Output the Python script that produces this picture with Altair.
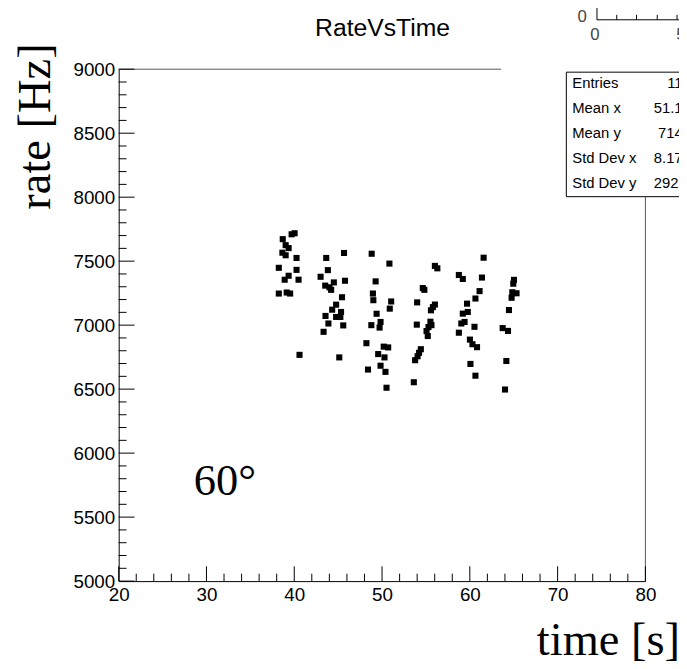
import altair as alt
import pandas as pd

# ---- data (time [s], rate [Hz]) ----
time_s = [
    # run near 39 s
    38.69, 39.02, 39.36, 39.70, 40.04, 38.65, 39.02, 40.26, 38.24, 40.26, 39.36, 38.91, 40.49, 38.24, 39.14, 39.53, 40.60,
    # run near 44.5 s
    45.67, 43.64, 43.83, 43.00, 45.78, 44.51, 43.53, 44.01, 44.20, 45.44, 44.77, 44.32, 45.33, 43.56, 44.77, 45.25, 43.89, 45.58, 43.34, 45.13,
    # run near 49.5 s
    48.82, 50.84, 49.27, 48.96, 49.01, 51.04, 50.88, 49.38, 49.83, 49.72, 48.78, 48.22, 50.19, 50.70, 49.56, 50.28, 49.83, 48.40, 50.39, 50.51,
    # run near 55 s
    56.02, 56.30, 54.64, 54.82, 54.00, 56.02, 55.79, 55.57, 53.96, 55.51, 55.63, 55.29, 55.07, 55.21, 54.42, 54.22, 54.05, 53.77, 53.62,
    # run near 60 s
    61.57, 58.75, 59.20, 61.38, 61.11, 60.64, 59.68, 59.77, 59.20, 59.40, 59.03, 60.53, 58.75, 60.01, 60.30, 60.82, 60.07, 60.64,
    # run near 64.5 s
    65.03, 64.95, 64.84, 65.32, 64.76, 64.46, 63.74, 64.35, 64.16, 64.01,
]
rate_hz = [
    7672, 7625, 7602, 7710, 7718, 7566, 7546, 7525, 7448, 7432, 7386, 7355, 7355, 7247, 7255, 7247, 6768,
    7564, 7525, 7430, 7378, 7347, 7334, 7309, 7296, 7276, 7218, 7160, 7121, 7103, 7072, 7064, 7064, 7013, 6998, 6948, 6748,
    7558, 7481, 7342, 7247, 7195, 7185, 7129, 7089, 7025, 6981, 7000, 6859, 6832, 6826, 6774, 6748, 6683, 6653, 6635, 6511,
    7463, 7444, 7290, 7276, 7178, 7161, 7141, 7116, 7004, 7027, 7000, 6985, 6954, 6915, 6812, 6784, 6757, 6726, 6554,
    7527, 7392, 7361, 7372, 7266, 7208, 7168, 7103, 7090, 7025, 7013, 6987, 6941, 6887, 6851, 6828, 6697, 6605,
    7354, 7324, 7257, 7249, 7214, 7118, 6977, 6955, 6720, 6497,
]

x_major = [20, 30, 40, 50, 60, 70, 80]
x_minor = [22, 24, 26, 28, 32, 34, 36, 38, 42, 44, 46, 48, 52, 54, 56, 58,
           62, 64, 66, 68, 72, 74, 76, 78]
y_major = [5000, 5500, 6000, 6500, 7000, 7500, 8000, 8500, 9000]
y_minor = [5100, 5200, 5300, 5400, 5600, 5700, 5800, 5900, 6100, 6200, 6300, 6400,
           6600, 6700, 6800, 6900, 7100, 7200, 7300, 7400, 7600, 7700, 7800, 7900,
           8100, 8200, 8300, 8400, 8600, 8700, 8800, 8900]

stat_labels = ["Entries", "Mean x", "Mean y", "Std Dev x", "Std Dev y"]
stat_values = ["112", "51.15", "7143", "8.173", "292.4"]

W, H = 533, 518
SANS = "Liberation Sans"
SERIF = "Liberation Serif"

df = pd.DataFrame({"time": time_s, "rate": rate_hz})
one = pd.DataFrame({"k": [0]})

xs = alt.Scale(domain=[20, 80], nice=False, zero=False)
ys = alt.Scale(domain=[5000, 9000], nice=False, zero=False)

x_axis = alt.Axis(values=x_major, title=None, grid=False, ticks=False, tickSize=0,
                  domain=True, domainColor="black", domainWidth=1,
                  labelFont=SANS, labelFontSize=19, labelColor="black",
                  labelPadding=5, labelFlush=False, labelOverlap=False, format="d")
y_axis = alt.Axis(values=y_major, title=None, grid=False, ticks=False, tickSize=0,
                  domain=True, domainColor="black", domainWidth=1,
                  labelFont=SANS, labelFontSize=19, labelColor="black",
                  labelPadding=4, labelFlush=False, labelOverlap=False, format="d")

points = alt.Chart(df).mark_square(size=38, color="black", opacity=1).encode(
    x=alt.X("time:Q", scale=xs, axis=x_axis, title=None),
    y=alt.Y("rate:Q", scale=ys, axis=y_axis, title=None),
)

def xticks(vals, length):
    return alt.Chart(pd.DataFrame({"time": vals})).mark_rule(color="black", strokeWidth=1).encode(
        x=alt.X("time:Q", scale=xs, axis=x_axis, title=None), y=alt.value(H), y2=alt.value(H - length))

def yticks(vals, length):
    return alt.Chart(pd.DataFrame({"rate": vals})).mark_rule(color="black", strokeWidth=1).encode(
        y=alt.Y("rate:Q", scale=ys, axis=y_axis, title=None), x=alt.value(0), x2=alt.value(length))

def hline(x1, x2, y, color="#555555"):
    return alt.Chart(one).mark_rule(color=color, strokeWidth=1).encode(
        x=alt.value(x1), x2=alt.value(x2), y=alt.value(y))

def vline(x, y1, y2, color="#555555"):
    return alt.Chart(one).mark_rule(color=color, strokeWidth=1).encode(
        x=alt.value(x), y=alt.value(y1), y2=alt.value(y2))

def text(t, x, y, size, font=SANS, align="left", baseline="alphabetic", angle=0, color="black"):
    kw = dict(text=t, font=font, fontSize=size, align=align, baseline=baseline, color=color)
    if angle:
        kw["angle"] = angle
    return alt.Chart(one).mark_text(**kw).encode(x=alt.value(x), y=alt.value(y))

layers = [
    points,
    hline(0, 387, 0),            # frame top (partly hidden by inset pad)
    vline(W, 129, H),            # frame right (below stats box)
    xticks(x_major, 15), xticks(x_minor, 7.5),
    yticks(y_major, 16), yticks(y_minor, 8),
    # stats box
    alt.Chart(one).mark_rect(fill="white", stroke="black", strokeWidth=1).encode(
        x=alt.value(453), x2=alt.value(640), y=alt.value(3), y2=alt.value(129)),
]
for i, (lab, val) in enumerate(zip(stat_labels, stat_values)):
    yb = 19 + 25.2 * i
    layers.append(text(lab, 459, yb, 15))
    layers.append(text(val, 579, yb, 15, align="right"))

# inset pad remains (top right)
ix = 484
layers += [
    vline(ix, -65, -50, color="black"),
    hline(ix, 600, -50, color="black"),
    hline(ix, ix + 17, -65, color="black"),
    text("0", ix - 15, -53, 17, align="center", baseline="middle", color="#444444"),
    text("0", ix - 2, -35, 17, align="center", baseline="middle", color="#444444"),
    text("5", ix + 85, -35, 17, align="center", baseline="middle", color="#444444"),
]
for tx in [ix + 20, ix + 40, ix + 61, ix + 81]:
    layers.append(vline(tx, -50, -55, color="black"))

# titles and annotation
layers += [
    text("RateVsTime", 267, -34, 25, align="center"),
    text("rate [Hz]", -70, 58, 47, font=SERIF, align="center", angle=270),
    text("time [s]", 568, 593, 47, font=SERIF, align="right"),
    text("60°", 76, 431, 45, font=SERIF),
]

chart = alt.layer(*layers).properties(
    width=W, height=H,
    padding={"left": 112, "top": 58, "right": 34, "bottom": 84},
    autosize=alt.AutoSizeParams(type="none"),
    background="white",
).configure_view(stroke=None)

chart.save("out.html", embed_options={"renderer": "svg", "actions": False})
